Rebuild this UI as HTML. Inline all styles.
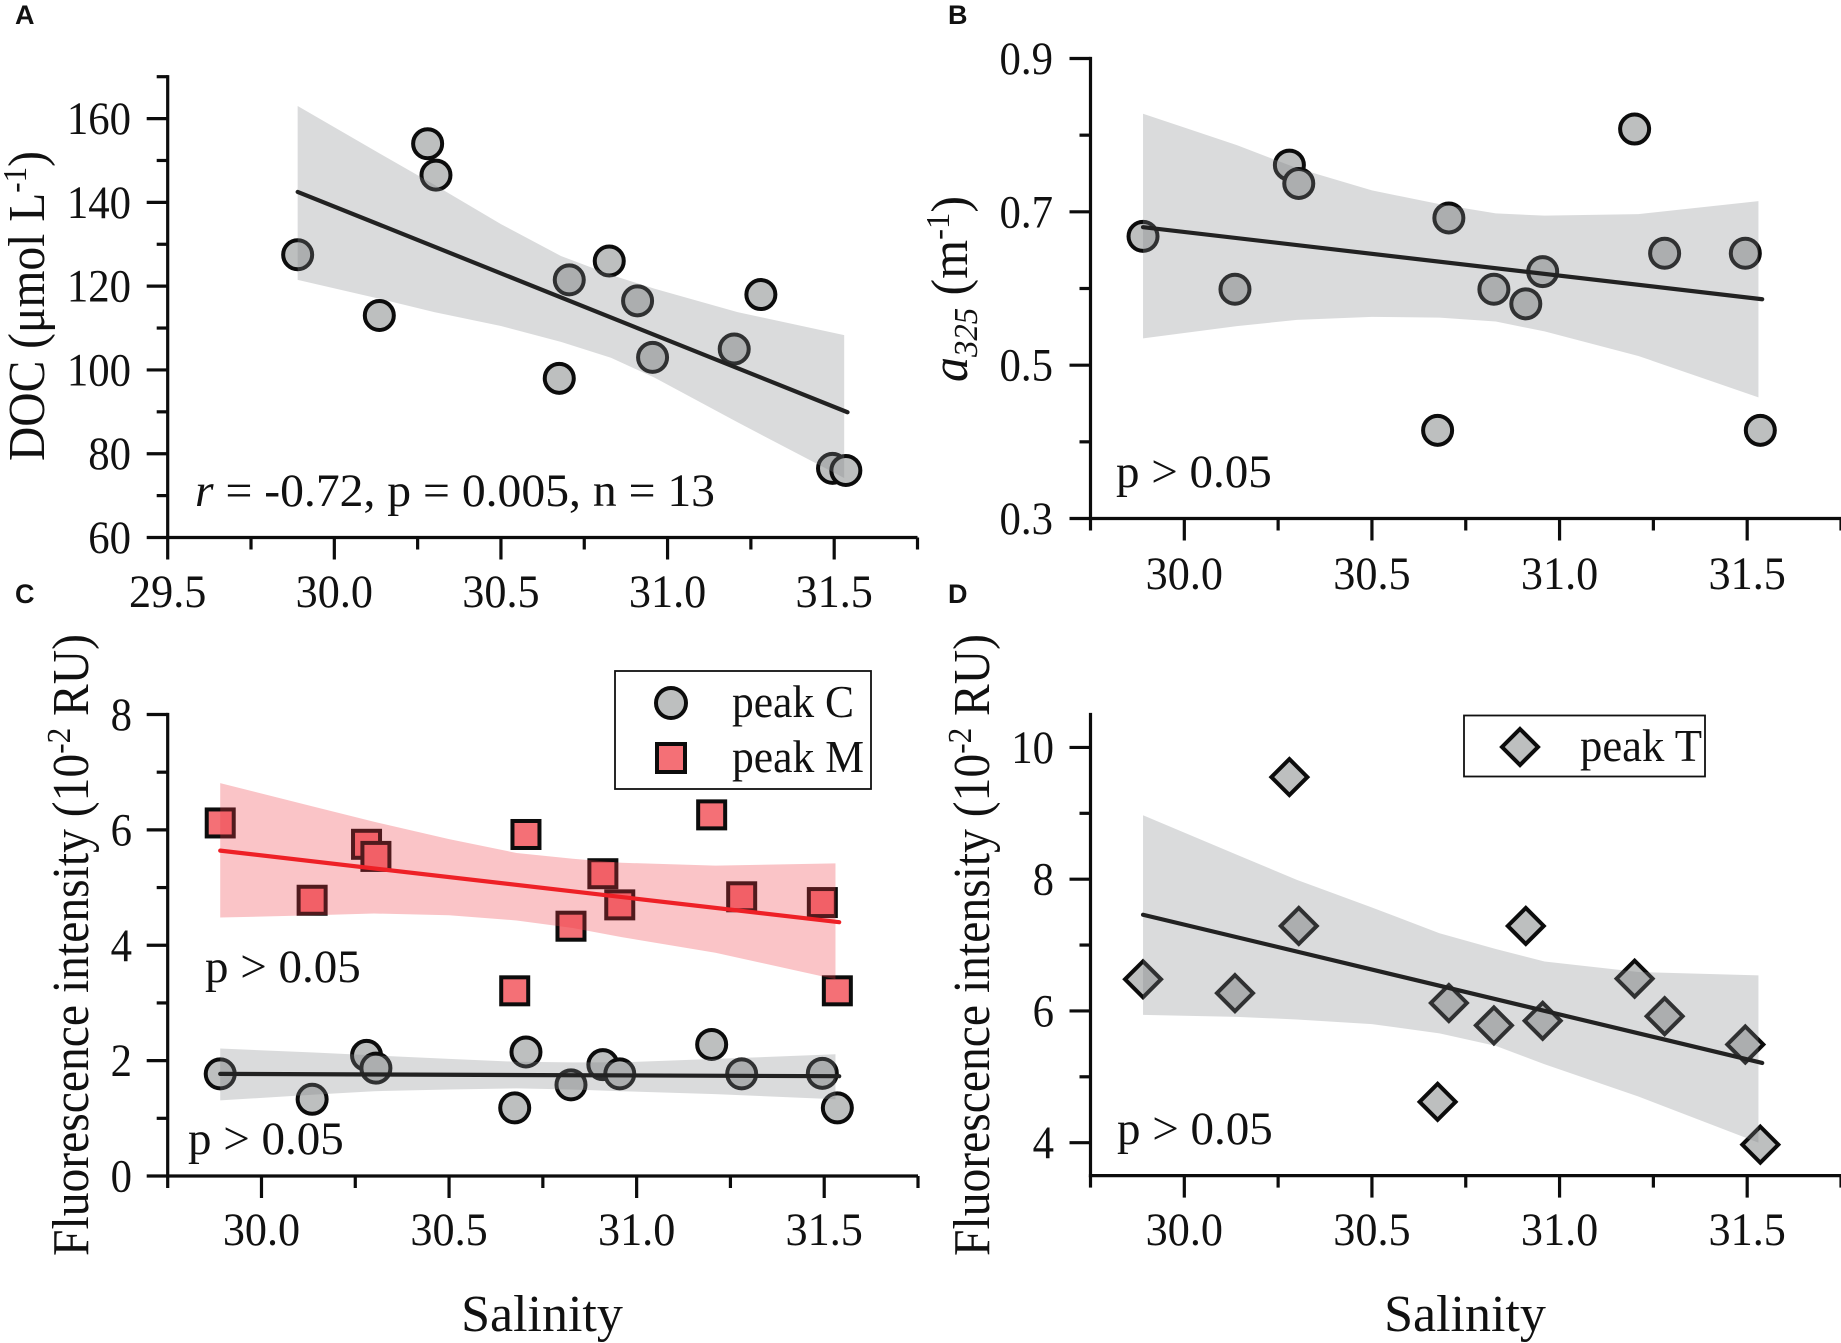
<!DOCTYPE html>
<html lang="en">
<head>
<meta charset="utf-8">
<title>Salinity correlations</title>
<style>
html,body{margin:0;padding:0;background:#fff;width:1841px;height:1343px;overflow:hidden}
svg{display:block}
text{font-family:"Liberation Serif",serif;fill:#111}
.panel-letter{font-family:"Liberation Sans",sans-serif;font-weight:700;font-size:27px}
.tick{font-size:47px}
.title{font-size:52px}
.note{font-size:47px}
.legend-text{font-size:46px}
</style>
</head>
<body>
<svg id="fig" xmlns="http://www.w3.org/2000/svg" width="1841" height="1343" viewBox="0 0 1841 1343">
  <text class="panel-letter" x="15" y="24">A</text>
  <text class="panel-letter" x="948" y="24">B</text>
  <text class="panel-letter" x="15" y="603">C</text>
  <text class="panel-letter" x="948" y="603">D</text>

  <text class="title" transform="translate(44,306) rotate(-90)" text-anchor="middle" textLength="310" lengthAdjust="spacingAndGlyphs">DOC (μmol L<tspan dy="-18" font-size="34">-1</tspan><tspan dy="18">)</tspan></text>
  <text class="title" transform="translate(967,289) rotate(-90)" text-anchor="middle" textLength="186" lengthAdjust="spacingAndGlyphs"><tspan font-style="italic">a</tspan><tspan dy="10" font-size="34" font-style="italic">325</tspan><tspan dy="-10"> (m</tspan><tspan dy="-18" font-size="34">-1</tspan><tspan dy="18">)</tspan></text>
  <text class="title" transform="translate(88,945) rotate(-90)" text-anchor="middle" textLength="622" lengthAdjust="spacingAndGlyphs">Fluorescence intensity (10<tspan dy="-18" font-size="34">-2</tspan><tspan dy="18"> RU)</tspan></text>
  <text class="title" transform="translate(989,945) rotate(-90)" text-anchor="middle" textLength="622" lengthAdjust="spacingAndGlyphs">Fluorescence intensity (10<tspan dy="-18" font-size="34">-2</tspan><tspan dy="18"> RU)</tspan></text>
  <text class="title" x="542" y="1331" text-anchor="middle">Salinity</text>
  <text class="title" x="1465" y="1331" text-anchor="middle">Salinity</text>

  <text class="note" x="195" y="506" textLength="520" lengthAdjust="spacingAndGlyphs"><tspan font-style="italic">r</tspan> = -0.72, p = 0.005, n = 13</text>
  <text class="note" x="1116" y="487">p &gt; 0.05</text>
  <text class="note" x="205" y="982">p &gt; 0.05</text>
  <text class="note" x="188" y="1154">p &gt; 0.05</text>
  <text class="note" x="1117" y="1144">p &gt; 0.05</text>

  <g>
    <rect x="615" y="671" width="256" height="118" fill="#fff" stroke="#111" stroke-width="1.8"/>
    <circle cx="671" cy="703" r="15" fill="#bdbfbf" stroke="#0c0c0c" stroke-width="4"/>
    <text class="legend-text" x="732" y="717" textLength="122" lengthAdjust="spacingAndGlyphs">peak C</text>
    <rect x="657" y="744" width="28" height="28" fill="#f47076" stroke="#0c0c0c" stroke-width="4"/>
    <text class="legend-text" x="732" y="772" textLength="132" lengthAdjust="spacingAndGlyphs">peak M</text>
  </g>
  <g>
    <rect x="1464" y="715.5" width="241" height="61" fill="#fff" stroke="#111" stroke-width="1.8"/>
    <polygon points="1520,729 1538,747 1520,765 1502,747" fill="#bdbfbf" stroke="#0c0c0c" stroke-width="4"/>
    <text class="legend-text" x="1580" y="761" textLength="122" lengthAdjust="spacingAndGlyphs">peak T</text>
  </g>
</svg>
<script>
// Shared sample salinity
const salinity = [29.89, 30.135, 30.28, 30.305, 30.675, 30.705, 30.825, 30.91, 30.955, 31.20, 31.28, 31.495, 31.535];
// Measured series
const docValues = [127.5, 113, 154, 146.5, 98, 121.5, 126, 116.5, 103, 105, 118, 76.5, 76];
const a325Values = [0.668, 0.599, 0.761, 0.737, 0.415, 0.692, 0.599, 0.58, 0.622, 0.808, 0.646, 0.646, 0.415];
const peakCValues = [1.77, 1.33, 2.09, 1.87, 1.18, 2.15, 1.58, 1.93, 1.77, 2.28, 1.77, 1.78, 1.18];
const peakMValues = [6.12, 4.78, 5.75, 5.54, 3.21, 5.92, 4.33, 5.24, 4.70, 6.26, 4.84, 4.74, 3.21];
const peakTValues = [6.48, 6.27, 9.55, 7.29, 4.62, 6.12, 5.78, 7.29, 5.85, 6.49, 5.92, 5.49, 3.97];
// Fit lines
const fitSalinity = [29.89, 31.54];
const docFit = [142.5, 89.9];
const a325Fit = [0.68, 0.586];
const peakCFit = [1.77, 1.73];
const peakMFit = [5.64, 4.40];
const peakTFit = [7.46, 5.21];
// Confidence bands
const bandSalinity = [29.89, 30.14, 30.3, 30.5, 30.68, 30.83, 30.96, 31.21, 31.53];
const docUpper = [163, 151.5, 144.2, 134.8, 127.2, 122.7, 119.4, 113.8, 108.3];
const docLower = [121.5, 116.9, 113.8, 110.5, 106.7, 102.9, 98.2, 87.5, 74.2];
const a325Upper = [0.828, 0.787, 0.757, 0.728, 0.71, 0.698, 0.695, 0.697, 0.714];
const a325Lower = [0.535, 0.551, 0.559, 0.563, 0.562, 0.557, 0.544, 0.512, 0.458];
const peakCUpper = [2.21, 2.14, 2.09, 2.03, 1.98, 1.97, 1.97, 2.03, 2.11];
const peakCLower = [1.31, 1.41, 1.47, 1.5, 1.52, 1.5, 1.47, 1.42, 1.33];
const peakMUpper = [6.81, 6.40, 6.14, 5.84, 5.60, 5.5, 5.43, 5.38, 5.42];
const peakMLower = [4.48, 4.52, 4.55, 4.52, 4.43, 4.3, 4.14, 3.87, 3.41];
const peakTUpper = [8.97, 8.37, 7.99, 7.57, 7.18, 6.94, 6.75, 6.59, 6.54];
const peakTLower = [5.94, 5.91, 5.87, 5.80, 5.66, 5.47, 5.19, 4.70, 4.00];
// Tick labels
const xTickLabelsA = ["29.5", "30.0", "30.5", "31.0", "31.5"];
const xTickLabels = ["30.0", "30.5", "31.0", "31.5"];
const yTickLabelsA = ["60", "80", "100", "120", "140", "160"];
const yTickLabelsB = ["0.3", "0.5", "0.7", "0.9"];
const yTickLabelsC = ["0", "2", "4", "6", "8"];
const yTickLabelsD = ["4", "6", "8", "10"];

const NS = "http://www.w3.org/2000/svg";
const fig = document.getElementById("fig");
const INK = "#0c0c0c";
const GREY_BAND = "rgba(133,137,140,0.3)";
const RED_BAND = "rgba(238,60,70,0.3)";

function mk(tag, attrs, parent) {
  const n = document.createElementNS(NS, tag);
  for (const k in attrs) n.setAttribute(k, attrs[k]);
  (parent || fig).appendChild(n);
  return n;
}
function scale(d0, d1, r0, r1) {
  return v => r0 + (v - d0) * (r1 - r0) / (d1 - d0);
}
function drawAxes(p, g) {
  const xAxis = mk("line", {x1: p.left - 1.6, x2: p.right, y1: p.bottom, y2: p.bottom, stroke: INK, "stroke-width": 3.2}, g);
  
  
  const yAxis = mk("line", {x1: p.left, x2: p.left, y1: p.top - 1.6, y2: p.bottom + 1.6, stroke: INK, "stroke-width": 3.2}, g);
  
  

  for (let v = p.xMin; v <= p.xMax + 1e-6; v += 0.25) {
    const major = Math.abs(v * 2 - Math.round(v * 2)) < 1e-6;
    const t = mk("line", {x1: p.x(v), x2: p.x(v), y1: p.bottom, y2: p.bottom + (major ? 22 : 12), stroke: INK, "stroke-width": 3.2}, g);
    
    
  }
  p.xLabels.forEach(s => {
    const t = mk("text", {class: "tick", transform: "translate(" + p.x(parseFloat(s)) + "," + p.xLabelY + ") scale(0.94,1)", "text-anchor": "middle"}, g);
    t.textContent = s;
    
    
  });
  for (let v = p.yTickStart; v <= p.yMax + 1e-6; v += p.yMinorStep) {
    const idx = Math.round((v - p.yFirstMajor) / p.yMinorStep);
    const major = idx % 2 === 0;
    const t = mk("line", {x1: p.left - (major ? 21 : 11), x2: p.left, y1: p.y(v), y2: p.y(v), stroke: INK, "stroke-width": 3.2}, g);
    
    
  }
  p.yLabels.forEach(s => {
    const t = mk("text", {class: "tick", transform: "translate(" + p.yLabelX + "," + (p.y(parseFloat(s)) + 15.5) + ") scale(0.91,1)", "text-anchor": "end"}, g);
    t.textContent = s;
    
    
  });
}
function drawPoints(p, g, values, shape, fill, seriesName) {
  values.forEach((val, i) => {
    const cx = p.x(salinity[i]), cy = p.y(val);
    let m;
    if (shape === "circle") {
      m = mk("circle", {cx: cx, cy: cy, r: 14.5, fill: fill, stroke: INK, "stroke-width": 4}, g);
    } else if (shape === "square") {
      m = mk("rect", {x: cx - 13.5, y: cy - 13.5, width: 27, height: 27, fill: fill, stroke: INK, "stroke-width": 4}, g);
    } else {
      const d = 18;
      m = mk("polygon", {points: [cx, cy - d, cx + d, cy, cx, cy + d, cx - d, cy].join(" "), fill: fill, stroke: INK, "stroke-width": 4}, g);
    }
    
    
  });
}
function drawBand(p, g, upper, lower, color, seriesName) {
  const up = bandSalinity.map((s, i) => p.x(s) + "," + p.y(upper[i]));
  const lo = bandSalinity.map((s, i) => p.x(s) + "," + p.y(lower[i])).reverse();
  const b = mk("polygon", {points: up.concat(lo).join(" "), fill: color}, g);
  
  
}
function drawFit(p, g, fit, color, seriesName) {
  const l = mk("line", {x1: p.x(fitSalinity[0]), y1: p.y(fit[0]), x2: p.x(fitSalinity[1]), y2: p.y(fit[1]), stroke: color, "stroke-width": 4.2, "stroke-linecap": "round"}, g);
  
  
}
function panel(cfg) {
  const p = Object.assign({}, cfg);
  p.x = scale(p.xMin, p.xMax, p.left, p.right);
  p.y = scale(p.yMin, p.yMax, p.bottom, p.top);
  const g = mk("g", {});
  
  
  drawAxes(p, g);
  return [p, g];
}

/* Panel A */
{
  const [p, g] = panel({id: "a", left: 167.7, right: 917.5, top: 76.7, bottom: 537.5, xMin: 29.5, xMax: 31.75, yMin: 60, yMax: 170,
    yTickStart: 60, yFirstMajor: 60, yMinorStep: 10, xLabels: xTickLabelsA, yLabels: yTickLabelsA, xLabelY: 607, yLabelX: 131});
  drawPoints(p, g, docValues, "circle", "#bdbfbf", "doc");
  drawBand(p, g, docUpper, docLower, GREY_BAND, "doc");
  drawFit(p, g, docFit, "#222", "doc");
}
/* Panel B */
{
  const [p, g] = panel({id: "b", left: 1090.5, right: 1841, top: 58.5, bottom: 518.5, xMin: 29.75, xMax: 31.75, yMin: 0.3, yMax: 0.9,
    yTickStart: 0.3, yFirstMajor: 0.3, yMinorStep: 0.1, xLabels: xTickLabels, yLabels: yTickLabelsB, xLabelY: 589, yLabelX: 1053});
  drawPoints(p, g, a325Values, "circle", "#bdbfbf", "a325");
  drawBand(p, g, a325Upper, a325Lower, GREY_BAND, "a325");
  drawFit(p, g, a325Fit, "#222", "a325");
}
/* Panel C */
{
  const [p, g] = panel({id: "c", left: 167.7, right: 918, top: 714.5, bottom: 1176, xMin: 29.75, xMax: 31.75, yMin: 0, yMax: 8,
    yTickStart: 0, yFirstMajor: 0, yMinorStep: 1, xLabels: xTickLabels, yLabels: yTickLabelsC, xLabelY: 1245, yLabelX: 132});
  drawPoints(p, g, peakCValues, "circle", "#bdbfbf", "peak-c");
  drawPoints(p, g, peakMValues, "square", "#f47076", "peak-m");
  drawBand(p, g, peakCUpper, peakCLower, GREY_BAND, "peak-c");
  drawBand(p, g, peakMUpper, peakMLower, RED_BAND, "peak-m");
  drawFit(p, g, peakCFit, "#222", "peak-c");
  drawFit(p, g, peakMFit, "#ee2026", "peak-m");
}
/* Panel D */
{
  const [p, g] = panel({id: "d", left: 1090.5, right: 1841, top: 714.5, bottom: 1175.6, xMin: 29.75, xMax: 31.75, yMin: 3.5, yMax: 10.5,
    yTickStart: 4, yFirstMajor: 4, yMinorStep: 1, xLabels: xTickLabels, yLabels: yTickLabelsD, xLabelY: 1245, yLabelX: 1054});
  drawPoints(p, g, peakTValues, "diamond", "#bdbfbf", "peak-t");
  drawBand(p, g, peakTUpper, peakTLower, GREY_BAND, "peak-t");
  drawFit(p, g, peakTFit, "#222", "peak-t");
}
</script>
</body>
</html>
